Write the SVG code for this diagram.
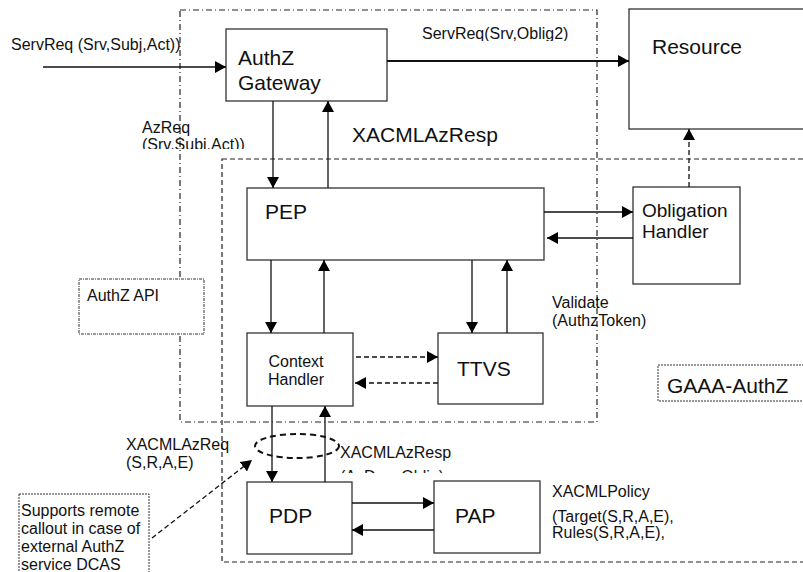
<svg xmlns="http://www.w3.org/2000/svg" width="803" height="572" viewBox="0 0 803 572">
<style>
text{font-family:"Liberation Sans",Arial,sans-serif;fill:#111}
.box{fill:#fff;stroke:#333;stroke-width:1.3}
.ln{stroke:#111;stroke-width:1.3;fill:none}
.dl{stroke:#111;stroke-width:1.3;fill:none;stroke-dasharray:5 3}
.s16{font-size:16px}.s19{font-size:19px}.s21{font-size:21px}
</style>
<defs>
<marker id="ah" markerUnits="userSpaceOnUse" markerWidth="12" markerHeight="12" refX="11" refY="6" orient="auto">
<path d="M0,0 L11,6 L0,12 Z" fill="#000"/>
</marker>
<clipPath id="c1"><rect x="130" y="136" width="140" height="13"/></clipPath>
<clipPath id="c2"><rect x="330" y="462" width="160" height="11"/></clipPath>
<clipPath id="c3"><rect x="410" y="20" width="200" height="21"/></clipPath>
</defs>
<g id="regions">
<rect x="180" y="10" width="417" height="412" fill="none" stroke="#222" stroke-width="1.2" stroke-dasharray="6 3 1 3"/>
<rect x="222" y="159" width="590" height="403" fill="none" stroke="#222" stroke-width="1.2" stroke-dasharray="5 3"/>
</g>
<g id="authz-api">
<rect x="79" y="279" width="125" height="55" fill="#fff" stroke="#333" stroke-width="1" stroke-dasharray="3 1 1 1"/>
<text class="s16" x="87" y="301">AuthZ API</text>
</g>
<g id="gaaa-authz">
<rect x="658" y="365" width="150" height="36" fill="#fff" stroke="#333" stroke-width="1" stroke-dasharray="2 1"/>
<text class="s21" x="667" y="393">GAAA-AuthZ</text>
</g>
<g id="gateway">
<rect class="box" x="226" y="29" width="161" height="72"/>
<text class="s21" x="238" y="65">AuthZ</text>
<text class="s21" x="238" y="90">Gateway</text>
</g>
<g id="resource">
<rect class="box" x="629" y="9" width="190" height="120"/>
<text class="s21" x="652" y="54">Resource</text>
</g>
<g id="pep">
<rect class="box" x="247" y="188" width="297" height="72"/>
<text class="s21" x="265" y="219">PEP</text>
</g>
<g id="obligation">
<rect class="box" x="633" y="187" width="107" height="97"/>
<text class="s19" x="642" y="217">Obligation</text>
<text class="s19" x="642" y="238">Handler</text>
</g>
<g id="context">
<rect class="box" x="247" y="333" width="106" height="73"/>
<text class="s16" x="296" y="367" text-anchor="middle">Context</text>
<text class="s16" x="296" y="385" text-anchor="middle">Handler</text>
</g>
<g id="ttvs">
<rect class="box" x="438" y="333" width="105" height="71"/>
<text class="s21" x="457" y="376">TTVS</text>
</g>
<g id="pdp">
<rect class="box" x="247" y="482" width="105" height="72"/>
<text class="s21" x="269" y="523">PDP</text>
</g>
<g id="pap">
<rect class="box" x="434" y="481" width="106" height="72"/>
<text class="s21" x="455" y="523">PAP</text>
</g>
<g id="note">
<rect x="19" y="494" width="130" height="90" fill="#fff" stroke="#333" stroke-width="1" stroke-dasharray="2 1"/>
<text class="s16" x="21" y="516">Supports remote</text>
<text class="s16" x="21" y="534">callout in case of</text>
<text class="s16" x="21" y="552">external AuthZ</text>
<text class="s16" x="21" y="570">service DCAS</text>
</g>
<g id="connectors">
<line class="ln" x1="43" y1="67" x2="226" y2="67" marker-end="url(#ah)"/>
<line x1="387" y1="61" x2="629" y2="61" stroke="#111" stroke-width="2" marker-end="url(#ah)"/>
<line class="ln" x1="273" y1="101" x2="273" y2="188" marker-end="url(#ah)"/>
<line class="ln" x1="328" y1="188" x2="328" y2="101" marker-end="url(#ah)"/>
<line class="ln" x1="544" y1="212" x2="633" y2="212" marker-end="url(#ah)"/>
<line class="ln" x1="633" y1="238" x2="547" y2="238" marker-end="url(#ah)"/>
<line class="dl" x1="689" y1="187" x2="689" y2="129" marker-end="url(#ah)"/>
<line class="ln" x1="271" y1="260" x2="271" y2="333" marker-end="url(#ah)"/>
<line class="ln" x1="324" y1="333" x2="324" y2="260" marker-end="url(#ah)"/>
<line class="ln" x1="472" y1="260" x2="472" y2="333" marker-end="url(#ah)"/>
<line class="ln" x1="507" y1="333" x2="507" y2="260" marker-end="url(#ah)"/>
<line class="dl" x1="356" y1="357" x2="438" y2="357" marker-end="url(#ah)"/>
<line class="dl" x1="438" y1="383" x2="355" y2="383" marker-end="url(#ah)"/>
<line class="ln" x1="272" y1="406" x2="272" y2="482" marker-end="url(#ah)"/>
<line class="ln" x1="325" y1="482" x2="325" y2="406" marker-end="url(#ah)"/>
<line class="ln" x1="352" y1="503" x2="434" y2="503" marker-end="url(#ah)"/>
<line class="ln" x1="434" y1="530" x2="352" y2="530" marker-end="url(#ah)"/>
<ellipse cx="297" cy="446" rx="42" ry="12" fill="none" stroke="#111" stroke-width="2" stroke-dasharray="6 4"/>
<line class="dl" x1="152" y1="538" x2="252" y2="460" marker-end="url(#ah)"/>
</g>
<g id="labels">
<text class="s16" x="11" y="50">ServReq (Srv,Subj,Act))</text>
<text class="s16" x="422" y="39" clip-path="url(#c3)">ServReq(Srv,Oblig2)</text>
<text class="s16" x="142" y="133">AzReq</text>
<text class="s16" x="142" y="150" clip-path="url(#c1)">(Srv,Subj,Act))</text>
<text class="s21" x="352" y="142">XACMLAzResp</text>
<text class="s16" x="552" y="308">Validate</text>
<text class="s16" x="552" y="326">(AuthzToken)</text>
<text class="s16" x="126" y="450">XACMLAzReq</text>
<text class="s16" x="126" y="468">(S,R,A,E)</text>
<text class="s16" x="340" y="458">XACMLAzResp</text>
<text class="s16" x="340" y="482" clip-path="url(#c2)">(AzDec, Oblig)</text>
<text class="s16" x="552" y="497">XACMLPolicy</text>
<text class="s16" x="552" y="522">(Target(S,R,A,E),</text>
<text class="s16" x="552" y="538">Rules(S,R,A,E),</text>
</g>
</svg>
